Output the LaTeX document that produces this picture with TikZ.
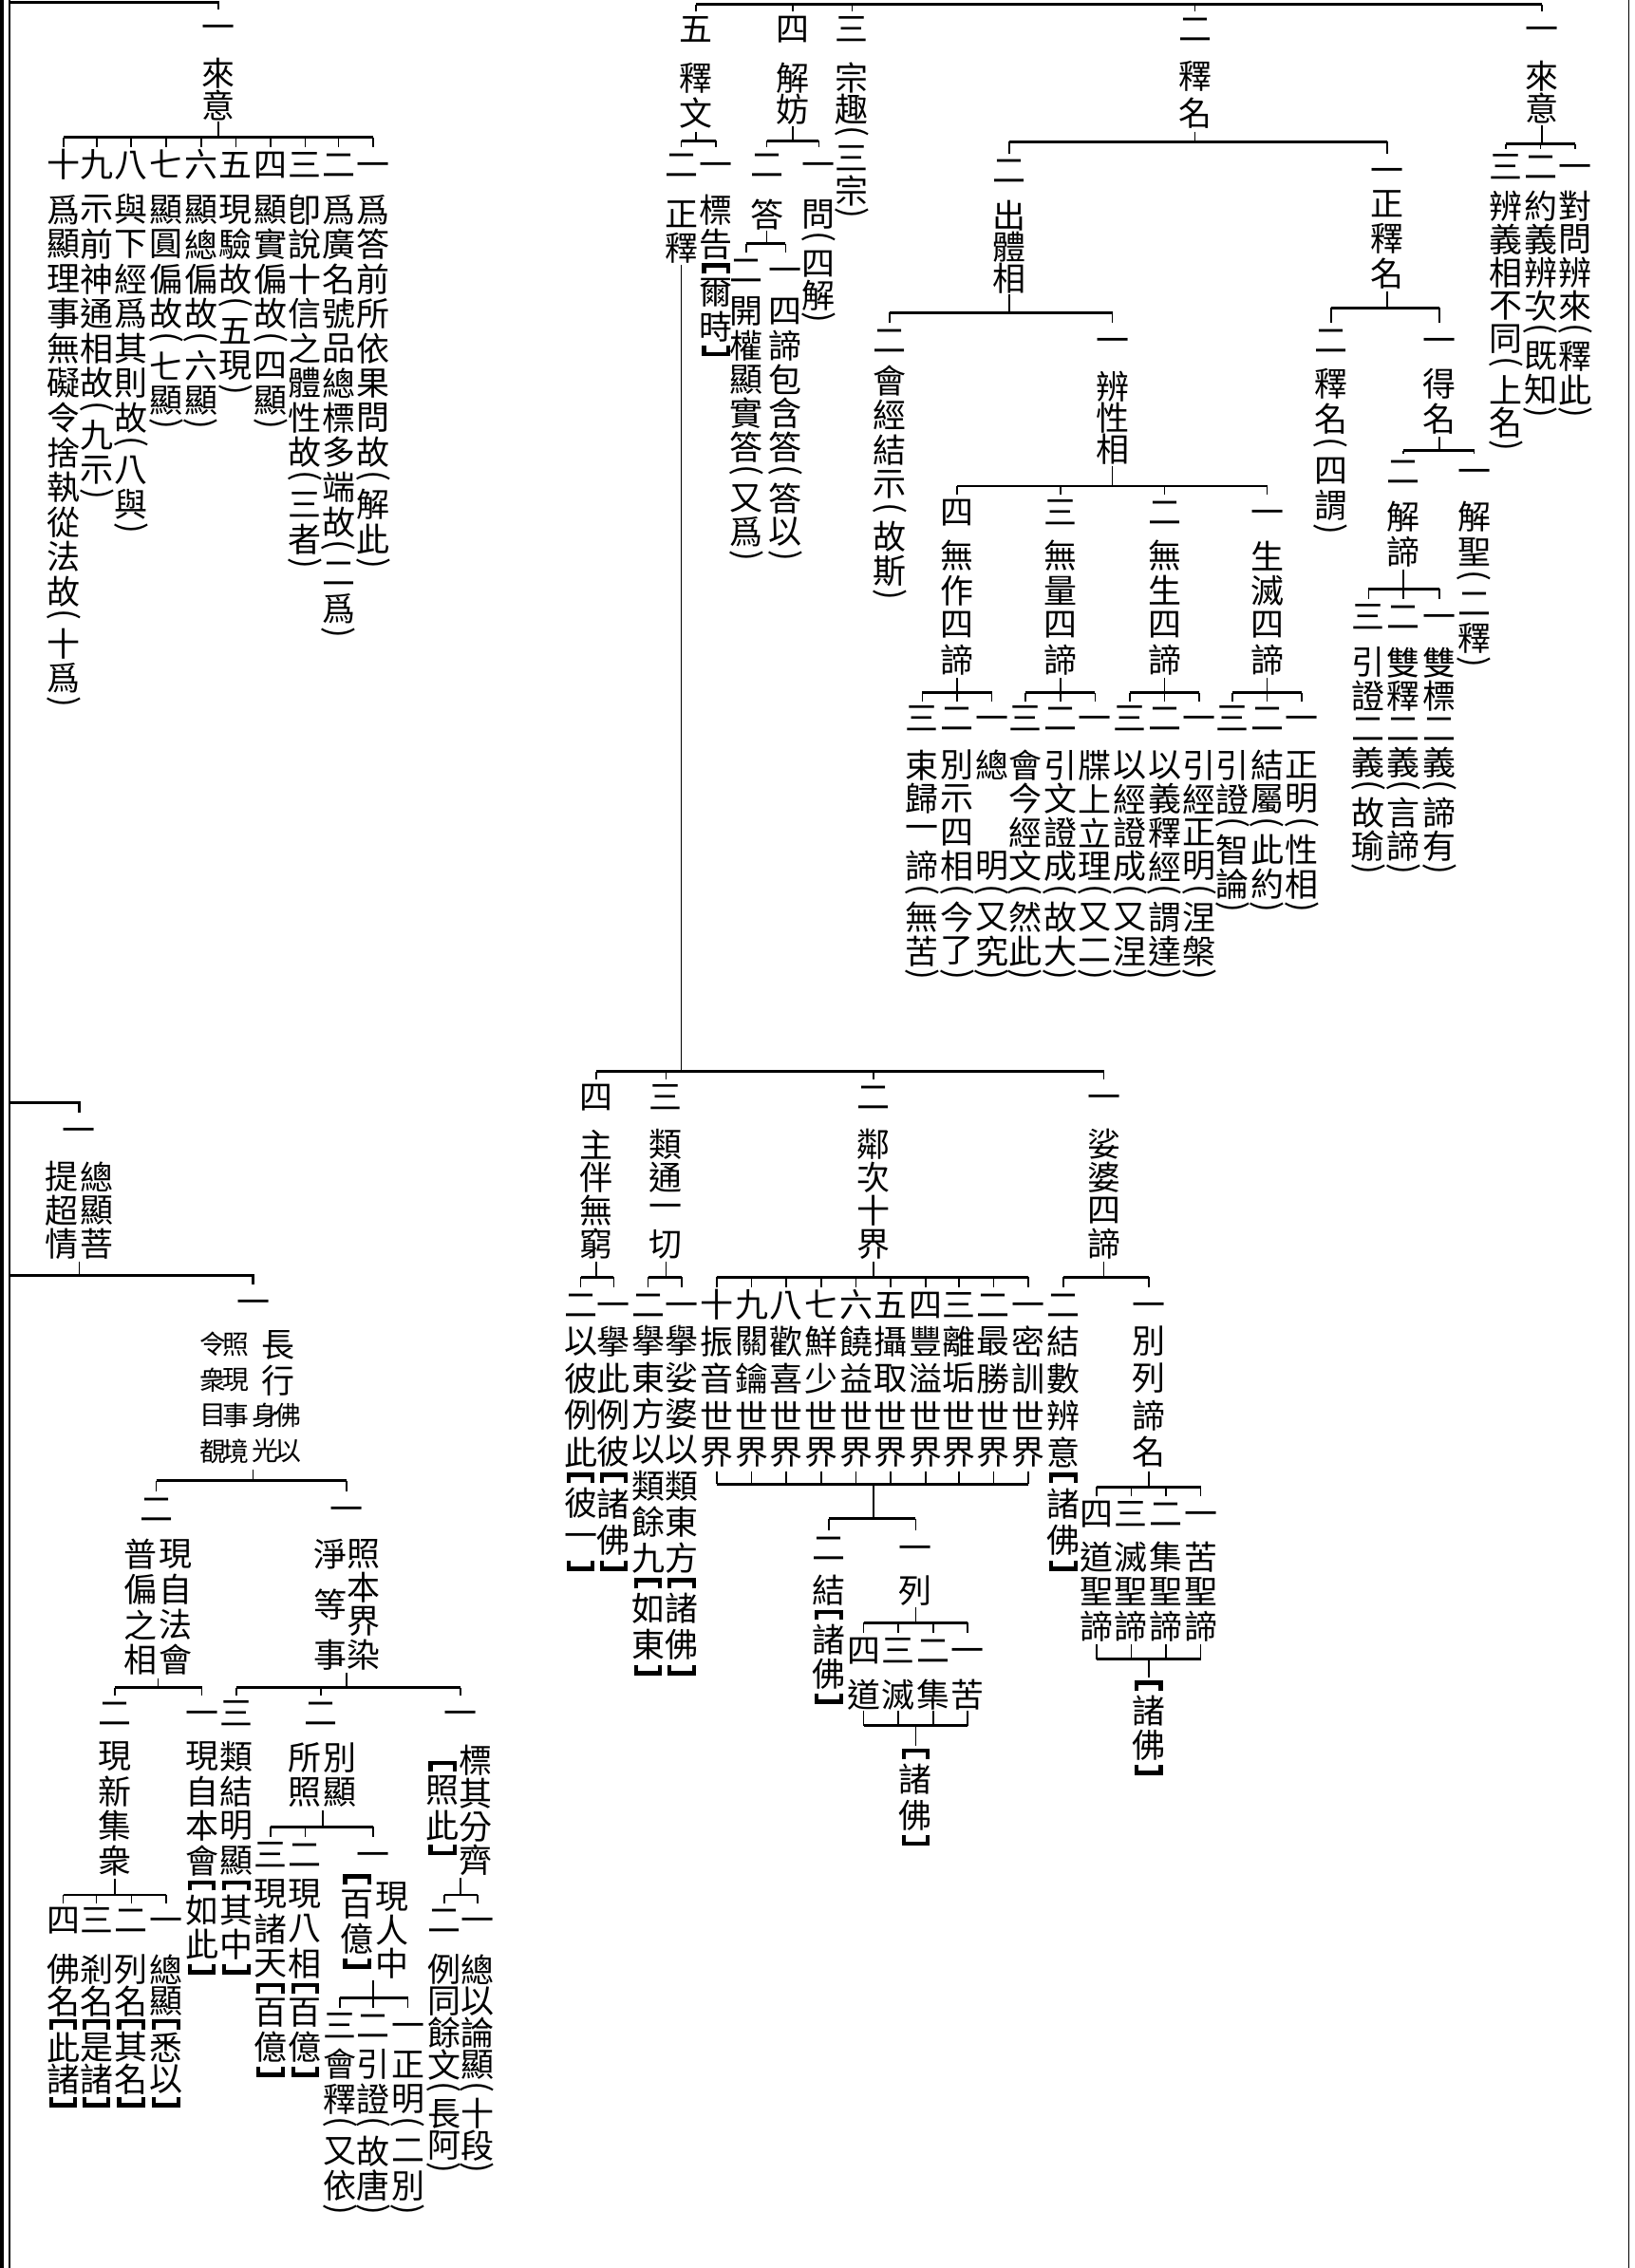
\documentclass[tikz,border=0pt]{standalone}
\usepackage{fontspec}
\usepackage{graphicx}
\usepackage{tikz}
\usetikzlibrary{positioning}
\newfontfamily\cjk{Noto Sans CJK TC}
\newcommand{\kfont}{\cjk\fontsize{9.8pt}{11pt}\selectfont}
\newcommand{\kfontsm}{\cjk\fontsize{7.8pt}{9pt}\selectfont}
\newdimen\vu \vu=0.015cm
\newdimen\vpitch
\newcommand{\vcell}[2]{\hbox to 0pt{\hss\vbox to #1{\vss\hbox{#2}\vss}\hss}}
\newcommand{\obrk}{\vbox{\hrule width .85em height .13em
  \hbox to .85em{\vrule width .12em height .18em depth 0pt\hss\vrule width .12em height .18em depth 0pt}}}
\newcommand{\cbrk}{\vbox{\hbox to .85em{\vrule width .12em height .18em depth 0pt\hss\vrule width .12em height .18em depth 0pt}%
  \hrule width .85em height .13em}}
\def\vchar#1{%
  \ifx(#1\vcell{12\vu}{\rotatebox[origin=c]{-90}{(}}%
  \else\ifx)#1\vcell{12\vu}{\rotatebox[origin=c]{-90}{)}}%
  \else\ifx[#1\vcell{10\vu}{\obrk}%
  \else\ifx]#1\vcell{10\vu}{\cbrk}%
  \else\ifx*#1\vcell{\vpitch}{}%
  \else\vcell{\vpitch}{#1}%
  \fi\fi\fi\fi\fi}
\def\vloop#1{\ifx\relax#1\else\vchar{#1}\expandafter\vloop\fi}
\newcommand{\vcol}[2][24]{\vpitch=#1\vu\relax\vbox{\offinterlineskip\vloop#2\relax}}
\newcommand{\kdrops}[4]{%
  \draw[bar] (#2.north |- 0,#1) -- (#3.north |- 0,#1);
  \foreach \c in {#4} {\draw[lin] (\c.north |- 0,#1) -- (\c.north);}}
\newcommand{\kfork}[5]{%
  \draw[lin] (#1.south) -- (#1.south |- 0,#2);
  \kdrops{#2}{#3}{#4}{#5}}
\newcommand{\kmerge}[4]{%
  \draw[bar] (#2.south |- 0,#1) -- (#3.south |- 0,#1);
  \foreach \c in {#4} {\draw[lin] (\c.south) -- (\c.south |- 0,#1);}}

\begin{document}
\begin{tikzpicture}[x=0.015cm,y=-0.015cm,
  vtx/.style={anchor=north,inner sep=0pt,font=\kfont},
  vts/.style={anchor=north,inner sep=0pt,font=\kfontsm},
  num/.style={inner sep=0pt,font=\kfont,text height=8.6pt,text depth=1.2pt},
  lin/.style={line width=0.45pt},
  bar/.style={line width=0.8pt},
]
\useasboundingbox (0,0) rectangle (1130,1568);
\fill[white] (0,0) rectangle (1130,1568);
\draw[line width=1.2pt] (1.2,0) -- (1.2,1568);
\draw[lin] (6.6,0) -- (6.6,1568);
\draw[lin] (1126,0) -- (1126,1568);

% top left
\coordinate (tkT) at (6.6,1.5);
\node[num] (a0) at (151,18.6) {一};
\draw[bar] (tkT) -| (a0.north);
\node[vtx] (aT) at (151,39.3) {\vcol[22]{來意}};
\node[num] (a1) at (258,113.5) {一};
\node[num] (a2) at (234,113.5) {二};
\node[num] (a3) at (211,113.5) {三};
\node[num] (a4) at (187,113.5) {四};
\node[num] (a5) at (163,113.5) {五};
\node[num] (a6) at (139,113.5) {六};
\node[num] (a7) at (115,113.5) {七};
\node[num] (a8) at (90.5,113.5) {八};
\node[num] (a9) at (67,113.5) {九};
\node[num] (a10) at (44,113.5) {十};
\kfork{aT}{95}{a10}{a1}{a1,a2,a3,a4,a5,a6,a7,a8,a9,a10}
\node[vtx] (aL1) at (258,132.4) {\vcol{爲答前所依果問故(解此)}};
\node[vtx] (aL2) at (234,132.4) {\vcol{爲廣名號品總標多端故(二爲)}};
\node[vtx] (aL3) at (211,132.4) {\vcol{卽說十信之體性故(三者)}};
\node[vtx] (aL4) at (187,132.4) {\vcol{顯實偏故(四顯)}};
\node[vtx] (aL5) at (163,132.4) {\vcol{現驗故(五現)}};
\node[vtx] (aL6) at (139,132.4) {\vcol{顯總偏故(六顯)}};
\node[vtx] (aL7) at (115,132.4) {\vcol{顯圓偏故(七顯)}};
\node[vtx] (aL8) at (90.5,132.4) {\vcol{與下經爲其則故(八與)}};
\node[vtx] (aL9) at (67,132.4) {\vcol{示前神通相故(九示)}};
\node[vtx] (aL10) at (44,132.4) {\vcol{爲顯理事無礙令捨執從法故(十爲)}};

% top right
\node[num] (b5) at (481,20) {五};
\node[num] (b4) at (548,20) {四};
\node[num] (b3) at (589,20) {三};
\node[num] (b2) at (826,20) {二};
\node[num] (b1) at (1066,20) {一};
\kdrops{3}{b5}{b1}{b5,b4,b3,b2,b1}

\node[vtx] (bT5) at (481,41) {\vcol[24.6]{釋文}};
\node[num] (b52) at (471,114) {二};
\node[num] (b51) at (495,114) {一};
\kfork{bT5}{97.3}{b52}{b51}{b52,b51}
\node[vtx] (bL52) at (471,136) {\vcol[23.2]{正釋}};
\node[vtx] (bL51) at (495,133.2) {\vcol[23.5]{標告[爾時]}};

\node[vtx] (bT4) at (548,42.2) {\vcol[22]{解妨}};
\node[num] (b42) at (530,114) {二};
\node[num] (b41) at (566,114) {一};
\kfork{bT4}{97.3}{b42}{b41}{b42,b41}
\node[vtx] (bL41) at (566,136.8) {\vcol[22]{問(四解)}};
\node[vtx] (bT42) at (530,136.8) {\vcol[22]{答}};
\node[num] (b422) at (516,186.7) {二};
\node[num] (b421) at (543,186.7) {一};
\kfork{bT42}{168.6}{b422}{b421}{b422,b421}
\node[vtx] (bL421) at (543,203.3) {\vcol[23.4]{四諦包含答(答以)}};
\node[vtx] (bL422) at (516,203.3) {\vcol[23.4]{開權顯實答(又爲)}};

\node[vtx] (bT3) at (589,42.2) {\vcol[22]{宗趣(三宗)}};

\node[vtx] (bT2) at (826,40) {\vcol[25]{釋名}};
\node[num] (c2) at (697.5,118) {二};
\node[num] (c1) at (959,118) {一};
\kfork{bT2}{98}{c2}{c1}{c2,c1}
\node[vtx] (cT2) at (697.5,138.2) {\vcol[21.5]{出體相}};
\node[num] (c22) at (615,235) {二};
\node[num] (c21) at (769,235) {一};
\kfork{cT2}{216}{c22}{c21}{c22,c21}
\node[vtx] (cL22) at (615,250.5) {\vcol{會經結示(故斯)}};
\node[vtx] (cT21) at (769,256) {\vcol[21.7]{辨性相}};
\node[num] (d4) at (661.6,354) {四};
\node[num] (d3) at (733,354) {三};
\node[num] (d2) at (805,354) {二};
\node[num] (d1) at (876,354) {一};
\kfork{cT21}{336}{d4}{d1}{d4,d3,d2,d1}

\node[vtx] (dT1) at (876,371.7) {\vcol{生滅四諦}};
\node[num] (d13) at (852,496.7) {三};
\node[num] (d12) at (876,496.7) {二};
\node[num] (d11) at (900,496.7) {一};
\kfork{dT1}{478.8}{d13}{d11}{d13,d12,d11}
\node[vtx] (dL11) at (900,516.9) {\vcol[23.3]{正明(性相)}};
\node[vtx] (dL12) at (876,516.9) {\vcol[23.3]{結屬(此約)}};
\node[vtx] (dL13) at (852,516.9) {\vcol[23.3]{引證(智論)}};

\node[vtx] (dT2) at (805,371.7) {\vcol{無生四諦}};
\node[num] (d23) at (781,496.7) {三};
\node[num] (d22) at (805,496.7) {二};
\node[num] (d21) at (829,496.7) {一};
\kfork{dT2}{478.8}{d23}{d21}{d23,d22,d21}
\node[vtx] (dL21) at (829,516.9) {\vcol[23.3]{引經正明(涅槃)}};
\node[vtx] (dL22) at (805,516.9) {\vcol[23.3]{以義釋經(謂達)}};
\node[vtx] (dL23) at (781,516.9) {\vcol[23.3]{以經證成(又涅)}};

\node[vtx] (dT3) at (733,371.7) {\vcol{無量四諦}};
\node[num] (d33) at (708.7,496.7) {三};
\node[num] (d32) at (733,496.7) {二};
\node[num] (d31) at (757,496.7) {一};
\kfork{dT3}{478.8}{d33}{d31}{d33,d32,d31}
\node[vtx] (dL31) at (757,516.9) {\vcol[23.3]{牒上立理(又二)}};
\node[vtx] (dL32) at (733,516.9) {\vcol[23.3]{引文證成(故大)}};
\node[vtx] (dL33) at (708.7,516.9) {\vcol[23.3]{會今經文(然此)}};

\node[vtx] (dT4) at (661.6,371.7) {\vcol{無作四諦}};
\node[num] (d43) at (637.6,496.7) {三};
\node[num] (d42) at (661.6,496.7) {二};
\node[num] (d41) at (685.6,496.7) {一};
\kfork{dT4}{478.8}{d43}{d41}{d43,d42,d41}
\node[vtx] (dL41) at (685.6,516.9) {\vcol[23.3]{總**明(又究)}};
\node[vtx] (dL42) at (661.6,516.9) {\vcol[23.3]{別示四相(今了)}};
\node[vtx] (dL43) at (637.6,516.9) {\vcol[23.3]{束歸一諦(無苦)}};

\node[vtx] (eT) at (959,128.5) {\vcol{正釋名}};
\node[num] (e2) at (920,235) {二};
\node[num] (e1) at (995,235) {一};
\kfork{eT}{212.7}{e2}{e1}{e2,e1}
\node[vtx] (eL2) at (920,253) {\vcol{釋名(四謂)}};
\node[vtx] (eT1) at (995,253) {\vcol{得名}};
\node[num] (e12) at (970,325.6) {二};
\node[num] (e11) at (1019,325.6) {一};
\kfork{eT1}{311.7}{e12}{e11}{e12,e11}
\node[vtx] (eL11) at (1019,345) {\vcol{解聖(二釋)}};
\node[vtx] (eT12) at (970,345) {\vcol{解諦}};
\node[num] (f3) at (946,426) {三};
\node[num] (f2) at (970,426) {二};
\node[num] (f1) at (995,426) {一};
\kfork{eT12}{407}{f3}{f1}{f3,f2,f1}
\node[vtx] (fL1) at (995,446) {\vcol[23]{雙標二義(諦有)}};
\node[vtx] (fL2) at (970,446) {\vcol[23]{雙釋二義(言諦)}};
\node[vtx] (fL3) at (946,446) {\vcol[23]{引證二義(故瑜)}};

\node[vtx] (gT) at (1066,41.5) {\vcol[22]{來意}};
\node[num] (g3) at (1041,115) {三};
\node[num] (g2) at (1065,115) {二};
\node[num] (g1) at (1089,115) {一};
\kfork{gT}{99.5}{g3}{g1}{g3,g2,g1}
\node[vtx] (gL1) at (1089,130.5) {\vcol[23]{對問辨來(釋此)}};
\node[vtx] (gL2) at (1065,130.5) {\vcol[23]{約義辨次(既知)}};
\node[vtx] (gL3) at (1041,130.5) {\vcol[23]{辨義相不同(上名)}};

% middle
\draw[lin] (bL52.south) -- (bL52.south |- 0,740.8);
\node[num] (h4) at (412,758.4) {四};
\node[num] (h3) at (460.4,758.4) {三};
\node[num] (h2) at (603.7,758.4) {二};
\node[num] (h1) at (763,758.4) {一};
\kdrops{740.8}{h4}{h1}{h4,h3,h2,h1}
\node[vtx] (hT4) at (412,779.2) {\vcol[23]{主伴無窮}};
\node[vtx] (hT3) at (460.4,779.2) {\vcol[23]{類通一切}};
\node[vtx] (hT2) at (603.7,779.2) {\vcol[23]{鄰次十界}};
\node[vtx] (hT1) at (763,779.2) {\vcol[23]{娑婆四諦}};

\node[num] (h42) at (401.4,902) {二};
\node[num] (h41) at (424.3,902) {一};
\kfork{hT4}{883}{h42}{h41}{h42,h41}
\node[vtx] (hL42) at (401.4,914.2) {\vcol[25.5]{以彼例此[彼一]}};
\node[vtx] (hL41) at (424.3,914.2) {\vcol[25.5]{擧此例彼[諸佛]}};

\node[num] (h32) at (448,902) {二};
\node[num] (h31) at (471.2,902) {一};
\kfork{hT3}{883}{h32}{h31}{h32,h31}
\node[vtx] (hL32) at (448,914.2) {\vcol[25]{擧東方以類餘九[如東]}};
\node[vtx] (hL31) at (471.2,914.2) {\vcol[25]{擧娑婆以類東方[諸佛]}};

\node[num] (h210) at (495.4,902) {十};
\node[num] (h209) at (519.5,902) {九};
\node[num] (h208) at (543.5,902) {八};
\node[num] (h207) at (567.6,902) {七};
\node[num] (h206) at (591.7,902) {六};
\node[num] (h205) at (615.7,902) {五};
\node[num] (h204) at (639.8,902) {四};
\node[num] (h203) at (662.7,902) {三};
\node[num] (h202) at (686.8,902) {二};
\node[num] (h201) at (710.8,902) {一};
\kfork{hT2}{883}{h210}{h201}{h210,h209,h208,h207,h206,h205,h204,h203,h202,h201}
\node[vtx] (hL210) at (495.4,914.2) {\vcol[25.5]{振音世界}};
\node[vtx] (hL209) at (519.5,914.2) {\vcol[25.5]{關鑰世界}};
\node[vtx] (hL208) at (543.5,914.2) {\vcol[25.5]{歡喜世界}};
\node[vtx] (hL207) at (567.6,914.2) {\vcol[25.5]{鮮少世界}};
\node[vtx] (hL206) at (591.7,914.2) {\vcol[25.5]{饒益世界}};
\node[vtx] (hL205) at (615.7,914.2) {\vcol[25.5]{攝取世界}};
\node[vtx] (hL204) at (639.8,914.2) {\vcol[25.5]{豐溢世界}};
\node[vtx] (hL203) at (662.7,914.2) {\vcol[25.5]{離垢世界}};
\node[vtx] (hL202) at (686.8,914.2) {\vcol[25.5]{最勝世界}};
\node[vtx] (hL201) at (710.8,914.2) {\vcol[25.5]{密訓世界}};
\kmerge{1026}{hL210}{hL201}{hL210,hL209,hL208,hL207,hL206,hL205,hL204,hL203,hL202,hL201}
\draw[lin] (hT2.south |- 0,1026) -- (hT2.south |- 0,1050);
\node[num] (i2) at (573,1070) {二};
\node[num] (i1) at (633,1070) {一};
\kdrops{1050}{i2}{i1}{i2,i1}
\node[vtx] (iL2) at (573,1087) {\vcol{結[諸佛]}};
\node[vtx] (iT1) at (633,1088) {\vcol[22]{列}};
\node[num] (j4) at (597,1140.6) {四};
\node[num] (j3) at (621,1140.6) {三};
\node[num] (j2) at (645,1140.6) {二};
\node[num] (j1) at (669,1140.6) {一};
\kfork{iT1}{1122}{j4}{j1}{j4,j3,j2,j1}
\node[vtx] (jL4) at (597,1160) {\vcol[22]{道}};
\node[vtx] (jL3) at (621,1160) {\vcol[22]{滅}};
\node[vtx] (jL2) at (645,1160) {\vcol[22]{集}};
\node[vtx] (jL1) at (669,1160) {\vcol[22]{苦}};
\kmerge{1193}{jL4}{jL1}{jL4,jL3,jL2,jL1}
\node[vtx] (jB) at (633,1207) {\vcol[25]{[諸佛]}};
\draw[lin] (jB.north |- 0,1193) -- (jB.north);

\node[num] (h12) at (735,902) {二};
\node[num] (h11) at (794,902) {一};
\kfork{hT1}{883}{h12}{h11}{h12,h11}
\node[vtx] (hL12) at (735,914.2) {\vcol[25.5]{結數辨意[諸佛]}};
\node[vtx] (hL11) at (794,914.2) {\vcol[25.5]{別列諦名}};
\node[num] (k4) at (758,1046.6) {四};
\node[num] (k3) at (782,1046.6) {三};
\node[num] (k2) at (806,1046.6) {二};
\node[num] (k1) at (830,1046.6) {一};
\kfork{hL11}{1028}{k4}{k1}{k4,k3,k2,k1}
\node[vtx] (kL4) at (758,1064) {\vcol{道聖諦}};
\node[vtx] (kL3) at (782,1064) {\vcol{滅聖諦}};
\node[vtx] (kL2) at (806,1064) {\vcol{集聖諦}};
\node[vtx] (kL1) at (830,1064) {\vcol{苦聖諦}};
\kmerge{1147}{kL4}{kL1}{kL4,kL3,kL2,kL1}
\node[vtx] (kB) at (794,1160) {\vcol{[諸佛]}};
\draw[lin] (kB.north |- 0,1147) -- (kB.north);

% lower left
\coordinate (tkA) at (6.6,762.6);
\node[num] (m1) at (54.7,781) {一};
\draw[bar] (tkA) -| (m1.north);
\node[vtx] (mT) at (54.7,801.3) {\vcol[23.3]{提超情}\hskip24\vu\vcol[23.3]{總顯菩}};
\coordinate (tkB) at (6.6,882);
\node[num] (m2) at (175,899.7) {一};
\draw[bar] (tkB) -| (m2.north);
\draw[lin] (mT.south) -- (mT.south |- tkB);

\node[vtx] (nT) at (192.5,917) {\vcol[24.5]{長行}};
\node[vts] (nS1) at (199,965.7) {\vcol[24.6]{佛以}};
\node[vts] (nS2) at (183.7,965.7) {\vcol[24.6]{身光}};
\node[vts] (nS3) at (163,916.7) {\vcol[24.6]{照現事境}};
\node[vts] (nS4) at (147.6,916.7) {\vcol[24.6]{令衆目覩}};
\draw[lin] (nS3.south -| m2) -- (m2 |- 0,1023.7);
\node[num] (n2) at (108,1043) {二};
\node[num] (n1) at (239.5,1043) {一};
\kdrops{1023.7}{n2}{n1}{n2,n1}

\node[vtx] (oT) at (109.3,1062) {\vcol[24.3]{普偏之相}\hskip24\vu\vcol[24.3]{現自法會}};
\node[num] (o2) at (79.5,1184.3) {二};
\node[num] (o1) at (139.5,1184.3) {一};
\kfork{oT}{1166.7}{o2}{o1}{o2,o1}
\node[vtx] (oT2) at (79.5,1202) {\vcol{現新集衆}};
\node[num] (p4) at (43.7,1327.6) {四};
\node[num] (p3) at (66.7,1327.6) {三};
\node[num] (p2) at (90.8,1327.6) {二};
\node[num] (p1) at (114.8,1327.6) {一};
\kfork{oT2}{1310}{p4}{p1}{p4,p3,p2,p1}
\node[vtx] (pL1) at (114.8,1350) {\vcol[22]{總顯[悉以]}};
\node[vtx] (pL2) at (90.8,1350) {\vcol[22]{列名[其名]}};
\node[vtx] (pL3) at (66.7,1350) {\vcol[22]{剎名[是諸]}};
\node[vtx] (pL4) at (43.7,1350) {\vcol[22]{佛名[此諸]}};
\node[vtx] (oL1) at (139.5,1202) {\vcol{現自本會[如此]}};

\node[vtx] (qT) at (251.5,1062.3) {\vcol[23.3]{照本界染}};
\node[vtx] (qTb) at (228.6,1056.5) {\vcol[35]{淨等事}};
\draw[lin] (qT.south -| n1) -- (n1 |- 0,1166.7);
\node[num] (q3) at (163.5,1184.3) {三};
\node[num] (q2) at (222,1184.3) {二};
\node[num] (q1) at (318.4,1184.3) {一};
\kdrops{1166.7}{q3}{q1}{q3,q2,q1}
\node[vtx] (qL3) at (163.5,1202) {\vcol{類結明顯[其中]}};
\node[vtx] (rT) at (223,1203) {\vcol{所照}\hskip24\vu\vcol{別顯}};
\node[num] (r3) at (187,1282) {三};
\node[num] (r2) at (211,1282) {二};
\node[num] (r1) at (258,1282) {一};
\kfork{rT}{1263}{r3}{r1}{r3,r2,r1}
\node[vtx] (rL3) at (187,1297) {\vcol{現諸天[百億]}};
\node[vtx] (rL2) at (211,1297) {\vcol{現八相[百億]}};
\node[vtx] (rT1) at (271,1299.5) {\vcol[23]{現人中}};
\node[vtx] (rT1b) at (247,1294) {\vcol{[百億]}};
\draw[lin] (rT1.south -| r1) -- (r1 |- 0,1381);
\node[num] (s3) at (235,1400) {三};
\node[num] (s2) at (258,1400) {二};
\node[num] (s1) at (282,1400) {一};
\kdrops{1381}{s3}{s1}{s3,s2,s1}
\node[vtx] (sL1) at (282,1414.6) {\vcol{正明(二別)}};
\node[vtx] (sL2) at (258,1414.6) {\vcol{引證(故唐)}};
\node[vtx] (sL3) at (235,1414.6) {\vcol{會釋(又依)}};

\node[vtx] (tT) at (329,1205) {\vcol[23]{標其分齊}};
\node[vtx] (tTb) at (306,1215.5) {\vcol{[照此]}};
\draw[lin] (tT.south -| q1) -- (q1 |- 0,1310);
\node[num] (t2) at (307,1327.6) {二};
\node[num] (t1) at (330,1327.6) {一};
\kdrops{1310}{t2}{t1}{t2,t1}
\node[vtx] (tL1) at (330,1350) {\vcol[22]{總以論顯(十段)}};
\node[vtx] (tL2) at (307,1350) {\vcol[22]{例同餘文(長阿)}};
\end{tikzpicture}
\end{document}
